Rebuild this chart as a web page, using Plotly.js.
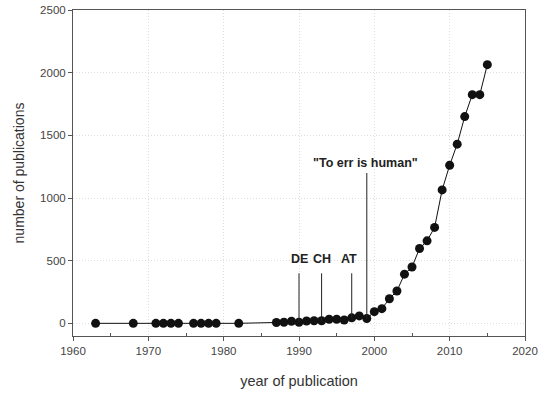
<!DOCTYPE html>
<html>
<head>
<meta charset="utf-8">
<script src="https://cdn.plot.ly/plotly-3.0.1.min.js"></script>
<style>html,body{margin:0;padding:0;background:#fff;}#chart{width:539px;height:394px;}</style>
</head>
<body>
<div id="chart"></div>
<script>
var years = [1963,1968,1971,1972,1973,1974,1976,1977,1978,1979,1982,
  1987,1988,1989,1990,1991,1992,1993,1994,1995,1996,1997,1998,1999,
  2000,2001,2002,2003,2004,2005,2006,2007,2008,2009,2010,2011,2012,2013,2014,2015];
var publications = [1,1,1,1,1,1,1,1,1,1,1,
  8,10,18,10,20,22,22,34,34,28,45,60,40,
  94,118,197,259,393,450,598,659,766,1065,1262,1430,1650,1825,1825,2064];

var eventLabels = ["DE","CH","AT","\"To err is human\""];
var eventYears = [1990,1993,1997,1999];
var eventTops = [400,400,400,1200];
var eventTextY = [515,515,515,1280];
var eventValues = [10,22,45,40];

var trace = {
  x: years, y: publications, type: 'scatter', mode: 'lines+markers',
  line: {color: '#111', width: 1},
  marker: {color: '#111', size: 9},
  hoverinfo: 'x+y'
};

var shapes = eventYears.map(function(yr, i){
  return {type:'line', xref:'x', yref:'y', x0: yr, x1: yr, y0: eventValues[i], y1: eventTops[i],
    line:{color:'#222', width:1}};
});
var annotations = eventLabels.map(function(lbl, i){
  return {x: eventYears[i] - (i===2 ? 0.4 : (i===3 ? 0.2 : 0)), y: eventTextY[i], xref:'x', yref:'y', text: '<b>'+lbl+'</b>',
    showarrow:false, font:{family:'Liberation Sans, Arial, sans-serif', size:12.5, color:'#222'}};
});

var layout = {
  width: 539, height: 394,
  margin: {l:73, r:14, t:10, b:58},
  paper_bgcolor:'#fff', plot_bgcolor:'#fff',
  showlegend:false,
  font:{family:'Liberation Sans, Arial, sans-serif', color:'#444'},
  xaxis: {
    range:[1960,2020], tickvals:[1960,1970,1980,1990,2000,2010,2020],
    ticks:'outside', ticklen:4, tickcolor:'#555',
    showline:true, linecolor:'#555', linewidth:1, mirror:true,
    showgrid:true, gridcolor:'#dedede', griddash:'1px,2px', gridwidth:1,
    zeroline:false,
    tickfont:{size:11.5, color:'#444'},
    minor:{tickvals:[1965,1975,1985,1995,2005,2015], ticks:'inside', ticklen:3, tickcolor:'#555', showgrid:false},
    title:{text:'year of publication', font:{size:14.5, color:'#333'}, standoff:20}
  },
  yaxis: {
    range:[-100,2500], tickvals:[0,500,1000,1500,2000,2500],
    ticks:'outside', ticklen:4, tickcolor:'#555',
    showline:true, linecolor:'#555', linewidth:1, mirror:true,
    showgrid:true, gridcolor:'#dedede', griddash:'1px,2px', gridwidth:1,
    zeroline:false,
    tickfont:{size:11.5, color:'#444'},
    title:{text:'number of publications', font:{size:14, color:'#333'}, standoff:12}
  },
  shapes: shapes,
  annotations: annotations
};

Plotly.newPlot('chart', [trace], layout, {displayModeBar:false, staticPlot:true});
</script>
</body>
</html>
